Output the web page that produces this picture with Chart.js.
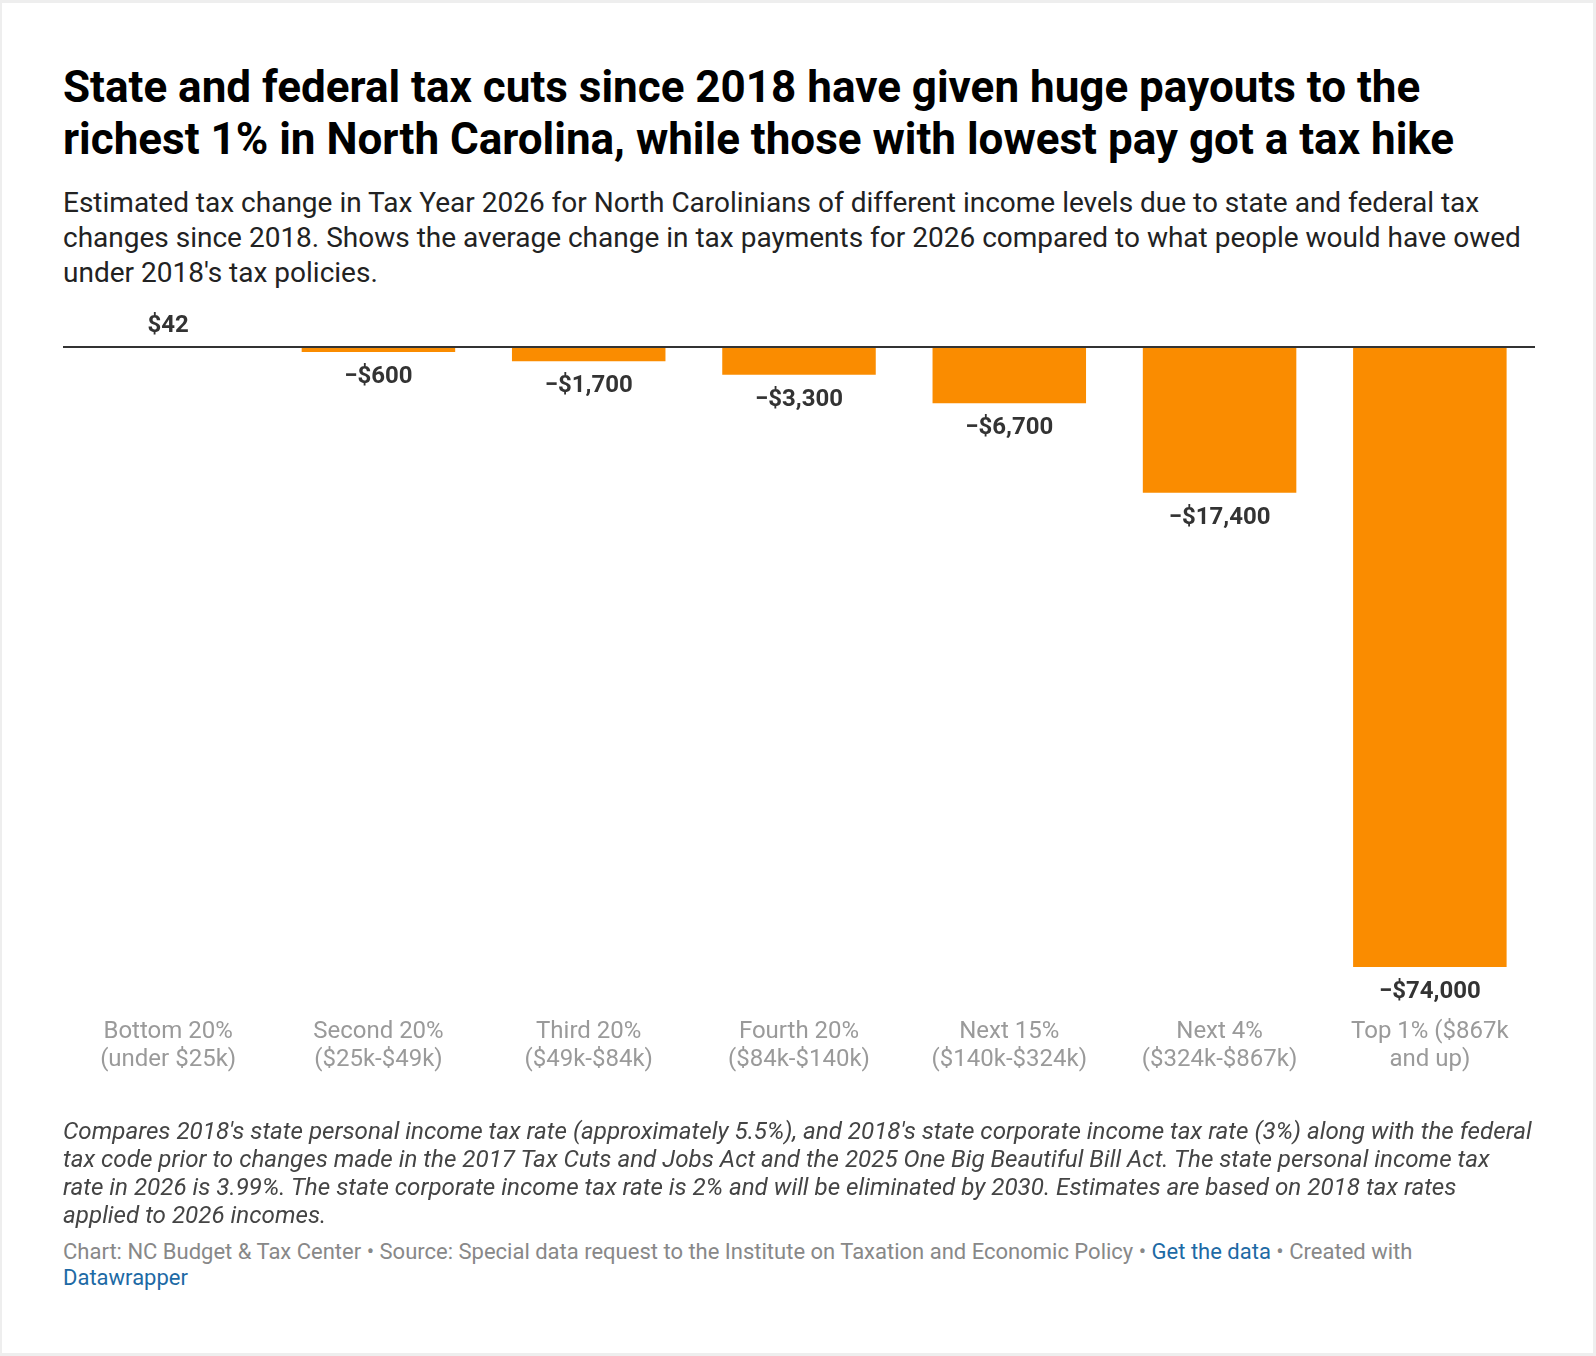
<!DOCTYPE html>
<html>
<head>
<meta charset="utf-8">
<script src="https://cdn.jsdelivr.net/npm/chart.js@4"></script>
<style>
  html, body { margin: 0; padding: 0; }
  body { width: 1596px; height: 1356px; background: #eeeeee; font-family: Roboto, "Noto Sans", sans-serif; position: relative; overflow: hidden; }
  #frame { position: absolute; left: 2px; top: 3px; width: 1591px; height: 1350px; background: #fff; }
  .txt { position: absolute; left: 63px; white-space: nowrap; }
  #title { top: 61px; font-size: 44px; line-height: 52px; font-weight: 700; color: #000; }
  #subtitle { top: 185px; font-size: 28px; line-height: 35px; color: #222; }
  #notes { top: 1117px; font-size: 24.2px; line-height: 28px; font-style: italic; color: #444; }
  #source { top: 1239px; font-size: 22px; line-height: 25.5px; color: #888; }
  #source a { color: #1d6aa5; text-decoration: none; }
  #wrap { position: absolute; left: 63px; top: 300px; width: 1472px; height: 834px; }
</style>
</head>
<body>
<div id="frame"></div>
<div class="txt" id="title">State and federal tax cuts since 2018 have given huge payouts to the<br>richest 1% in North Carolina, while those with lowest pay got a tax hike</div>
<div class="txt" id="subtitle">Estimated tax change in Tax Year 2026 for North Carolinians of different income levels due to state and federal tax<br>changes since 2018. Shows the average change in tax payments for 2026 compared to what people would have owed<br>under 2018's tax policies.</div>
<div id="wrap"><canvas id="chart"></canvas></div>
<div class="txt" id="notes">Compares 2018's state personal income tax rate (approximately 5.5%), and 2018's state corporate income tax rate (3%) along with the federal<br>tax code prior to changes made in the 2017 Tax Cuts and Jobs Act and the 2025 One Big Beautiful Bill Act. The state personal income tax<br>rate in 2026 is 3.99%. The state corporate income tax rate is 2% and will be eliminated by 2030. Estimates are based on 2018 tax rates<br>applied to 2026 incomes.</div>
<div class="txt" id="source">Chart: NC Budget &amp; Tax Center • Source: Special data request to the Institute on Taxation and Economic Policy • <a>Get the data</a> • Created with<br><a>Datawrapper</a></div>
<script>
const groups = [
  ["Bottom 20%", "(under $25k)"],
  ["Second 20%", "($25k-$49k)"],
  ["Third 20%", "($49k-$84k)"],
  ["Fourth 20%", "($84k-$140k)"],
  ["Next 15%", "($140k-$324k)"],
  ["Next 4%", "($324k-$867k)"],
  ["Top 1% ($867k", "and up)"]
];
const taxChange = [42, -600, -1700, -3300, -6700, -17400, -74000];
const yMin = -74000;
const yMax = 0;

function money(v) {
  return (v < 0 ? "\u2212" : "") + "$" + Math.abs(v).toLocaleString("en-US");
}

// zero baseline + value labels
const labelsPlugin = {
  id: "barLabels",
  afterDatasetsDraw(chart) {
    const ctx = chart.ctx;
    const area = chart.chartArea;
    const y0 = chart.scales.y.getPixelForValue(0);
    ctx.save();
    ctx.strokeStyle = "#333";
    ctx.lineWidth = 2;
    ctx.beginPath();
    ctx.moveTo(area.left, y0);
    ctx.lineTo(area.right, y0);
    ctx.stroke();

    ctx.font = "bold 24px Roboto";
    ctx.fillStyle = "#333";
    ctx.textAlign = "center";
    ctx.textBaseline = "middle";
    const meta = chart.getDatasetMeta(0);
    meta.data.forEach((bar, i) => {
      const v = taxChange[i];
      const y = v >= 0 ? Math.min(bar.y, y0) - 21 : bar.y + 25;
      ctx.fillText(money(v), bar.x, y);
    });
    ctx.restore();
  }
};

new Chart(document.getElementById("chart"), {
  type: "bar",
  data: {
    labels: groups,
    datasets: [{
      data: taxChange,
      backgroundColor: "#fa8c00",
      barPercentage: 0.73,
      categoryPercentage: 1
    }]
  },
  options: {
    responsive: true,
    maintainAspectRatio: false,
    animation: false,
    layout: { padding: { top: 47, bottom: 9, left: 0, right: 0 } },
    plugins: { legend: { display: false }, tooltip: { enabled: false } },
    scales: {
      x: {
        grid: { display: false, drawTicks: false },
        border: { display: false },
        ticks: {
          color: "#9a9a9a",
          font: { family: "Roboto", size: 24, lineHeight: 28 / 24 },
          padding: 51,
          maxRotation: 0,
          autoSkip: false
        },
        // tick padding should only push labels down, not squeeze the sides
        afterFit(scale) {
          scale.paddingLeft = 0;
          scale.paddingRight = 0;
        }
      },
      y: {
        display: false,
        min: yMin,
        max: yMax
      }
    }
  },
  plugins: [labelsPlugin]
});
</script>
</body>
</html>
